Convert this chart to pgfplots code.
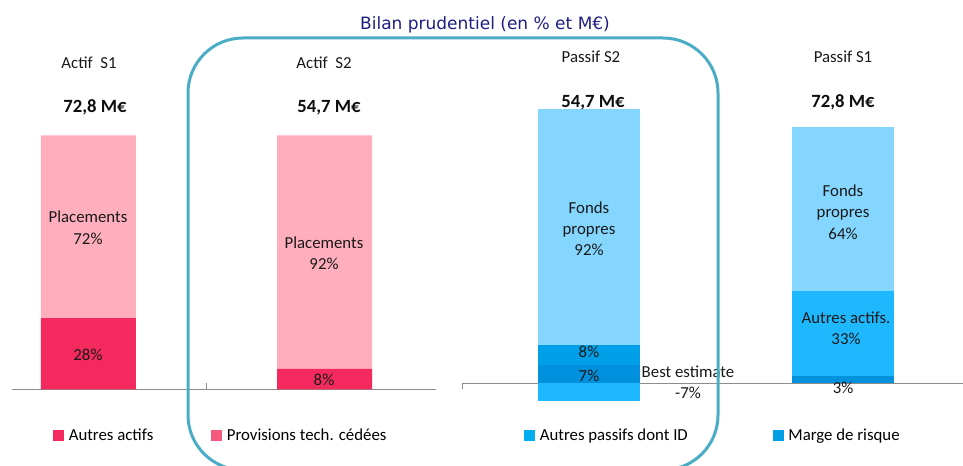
\documentclass[border=0pt]{standalone}
\usepackage{pgfplots}
\pgfplotsset{compat=1.18}
\usepackage{fontspec}
\setmainfont{Carlito}
\newfontfamily\titlefont{DejaVu Sans}
\definecolor{actcol}{HTML}{F42A5E}
\definecolor{placcol}{HTML}{FFAEBD}
\definecolor{provcol}{HTML}{F55A7E}
\definecolor{fondscol}{HTML}{85D6FF}
\definecolor{autpcol}{HTML}{1EB8FF}
\definecolor{midcol}{HTML}{00A0E8}
\definecolor{darkcol}{HTML}{0090DD}
\definecolor{margecol}{HTML}{0092DD}
\definecolor{legautp}{HTML}{00AEEF}
\definecolor{legmarge}{HTML}{00A0E6}
\definecolor{boxcol}{HTML}{4BACC6}
\definecolor{axgray}{HTML}{8C8C8C}
\definecolor{titlecol}{HTML}{1E1E82}
\begin{document}
\begin{tikzpicture}[x=0.75pt,y=0.75pt,
  lab/.style={font=\fontsize{12.6}{15}\selectfont, inner sep=0pt, text height=8pt, text depth=0pt, text=black!90},
  tot/.style={font=\fontsize{14}{17}\selectfont\bfseries, inner sep=0pt, text height=9pt, text depth=0pt, text=black!95}]
\useasboundingbox (0,0) rectangle (963,465);
\clip (0,0) rectangle (963,465);

% ---------- Actif ----------
\begin{axis}[
  at={(9pt,56.775pt)}, anchor=south west, scale only axis,
  width=318pt, height=190.5pt,
  xmin=-0.324, xmax=1.472, ymin=0, ymax=100, enlargelimits=false,
  axis x line=bottom, axis y line=none,
  x axis line style={-, draw=axgray, line width=1.1pt},
  xtick={0.5}, xticklabels={}, ytick=\empty,
  tick align=inside, major tick length=4.5pt,
  every tick/.style={draw=axgray, line width=1.1pt},
  ybar stacked, bar width=71.25pt,
  legend columns=2,
  legend style={draw=none, fill=none, at={(0.0967,-0.18)}, anchor=west, inner sep=0pt,
    font=\fontsize{12.6}{15}\selectfont,
    nodes={inner sep=0pt, text height=8pt, text depth=0pt},
    /tikz/every odd column/.append style={column sep=3.75pt},
    /tikz/every even column/.append style={column sep=43.5pt}},
  legend cell align=left,
  legend entries={Autres actifs, Provisions tech. cédées},
]
\addlegendimage{legend image code/.code={\fill[actcol] (0pt,-3.75pt) rectangle (7.5pt,3.75pt);}}
\addlegendimage{legend image code/.code={\fill[provcol] (0pt,-3.75pt) rectangle (7.5pt,3.75pt);}}
\addplot[fill=actcol, draw=none] coordinates {(0,28) (1,8)};
\addplot[fill=placcol, draw=none] coordinates {(0,72) (1,92)};
\end{axis}

% ---------- Passif ----------
\begin{axis}[
  at={(346.5pt,42.075pt)}, anchor=south west, scale only axis,
  width=375.75pt, height=230.7pt,
  xmin=-0.501, xmax=1.475, ymin=-10, ymax=110, enlargelimits=false,
  axis x line=middle, axis y line=none,
  x axis line style={-, draw=axgray, line width=1.1pt},
  xtick={-0.5}, xticklabels={}, ytick=\empty,
  tick align=inside, major tick length=4.5pt,
  every tick/.style={draw=axgray, line width=1.1pt},
  ybar, bar width=76.5pt, bar shift=0pt,
  legend columns=2,
  legend style={draw=none, fill=none, at={(0.1238,-0.0849)}, anchor=west, inner sep=0pt,
    font=\fontsize{12.6}{15}\selectfont,
    nodes={inner sep=0pt, text height=8pt, text depth=0pt},
    /tikz/every odd column/.append style={column sep=3.75pt},
    /tikz/every even column/.append style={column sep=63.75pt}},
  legend cell align=left,
  legend entries={Autres passifs dont ID, Marge de risque},
]
\addlegendimage{legend image code/.code={\fill[legautp] (0pt,-3.75pt) rectangle (7.5pt,3.75pt);}}
\addlegendimage{legend image code/.code={\fill[legmarge] (0pt,-3.75pt) rectangle (7.5pt,3.75pt);}}
% Passif S2 (x=0): cumulative tops 107 / 15 / 7 and -7
\addplot[fill=fondscol, draw=none, bar shift=0pt] coordinates {(0,107)};
\addplot[fill=midcol, draw=none, bar shift=0pt] coordinates {(0,15)};
\addplot[fill=darkcol, draw=none, bar shift=0pt] coordinates {(0,7)};
\addplot[fill=autpcol, draw=none, bar shift=0pt] coordinates {(0,-7)};
% Passif S1 (x=1): cumulative tops 100 / 36 / 3
\addplot[fill=fondscol, draw=none, bar shift=0pt] coordinates {(1,100)};
\addplot[fill=autpcol, draw=none, bar shift=0pt] coordinates {(1,36)};
\addplot[fill=margecol, draw=none, bar shift=0pt] coordinates {(1,3)};
\end{axis}

% ---------- texts ----------
\node[font=\titlefont\fontsize{12.75}{15}\selectfont, text=titlecol, inner sep=0pt, text height=9.3pt, text depth=0pt] at (485,{465-23}) {Bilan prudentiel (en \% et M€)};

\node[lab] at (89,{465-63}) {Actif~~S1};
\node[lab] at (324,{465-63}) {Actif~~S2};
\node[lab] at (591,{465-57}) {Passif S2};
\node[lab] at (843,{465-57}) {Passif S1};

\node[tot] at (95,{465-106}) {72,8 M€};
\node[tot] at (329,{465-107}) {54,7 M€};
\node[tot] at (593,{465-102}) {54,7 M€};
\node[tot] at (843,{465-102}) {72,8 M€};

\node[lab] at (88,{465-217}) {Placements};
\node[lab] at (88,{465-239}) {72\%};
\node[lab] at (88,{465-355}) {28\%};
\node[lab] at (324,{465-243}) {Placements};
\node[lab] at (324,{465-264}) {92\%};
\node[lab] at (324,{465-380}) {8\%};

\node[lab] at (589,{465-208}) {Fonds};
\node[lab] at (589,{465-229}) {propres};
\node[lab] at (589,{465-250}) {92\%};
\node[lab] at (589,{465-352}) {8\%};
\node[lab] at (589,{465-376}) {7\%};
\node[lab] at (688,{465-372}) {Best estimate};
\node[lab] at (688,{465-393}) {-7\%};

\node[lab] at (843,{465-191}) {Fonds};
\node[lab] at (843,{465-212}) {propres};
\node[lab] at (843,{465-234}) {64\%};
\node[lab] at (846,{465-318}) {Autres actifs.};
\node[lab] at (846,{465-339}) {33\%};
\node[lab] at (843,{465-388}) {3\%};

% ---------- rounded frame (open at the bottom, beyond the picture) ----------
\draw[boxcol, line width=2.25pt]
  (243,-5) arc[start angle=270, end angle=180, radius=41.25pt]
  -- (188,372) arc[start angle=180, end angle=90, radius=41.25pt]
  -- (663,427) arc[start angle=90, end angle=0, radius=41.25pt]
  -- (718,50) arc[start angle=0, end angle=-90, radius=41.25pt];
\end{tikzpicture}
\end{document}
